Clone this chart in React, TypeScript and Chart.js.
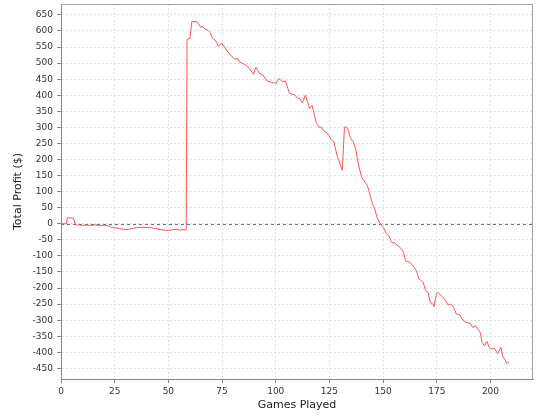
import React, { useEffect, useRef } from 'react';
import { Chart, registerables } from 'chart.js';

Chart.register(...registerables);

// Games played (x) and cumulative profit in $ (y)
const games = [
  0, 2.5, 3, 5, 5.8, 6.8, 8, 10, 12, 14, 16, 18, 20, 22, 23, 25, 27, 29, 31, 33, 35, 38, 42, 44, 47, 50, 52, 54, 55.5, 56.5, 58.3,
  58.7, 60.1, 60.9, 62.9, 64, 65.1, 65.8, 66.6, 67.5, 68.6, 69.4, 70.6, 72, 73.3, 74.9, 76.8, 78.4, 80.7, 82.3, 83, 86.1, 87.7,
  89.6, 90.8, 92.4, 94, 95.8, 98.7, 100.2, 101.4, 103.3, 104.5, 106.4, 108.7, 110.3, 111.2, 112.4, 113.8, 115.8, 116.9, 119,
  120.2, 121.3, 122.1, 124.4, 126, 127.1, 128.7, 129.9, 131, 132, 133, 133.8, 134.9, 136.1, 137.3, 138.4, 140, 141.5, 142.6,
  143.5, 145, 146.1, 147.1, 148.4, 149.2, 150.2, 151.5, 152.7, 153.8, 155.3, 156.9, 158.5, 159.5, 160.5, 162.3, 163.9, 165.5,
  166.7, 167.8, 168.6, 169.8, 170.9, 172, 173.2, 173.7, 174.8, 175.6, 177.1, 178.6, 180.2, 181.3, 182.5, 184.1, 185.6, 187.2,
  188.7, 190.6, 191.8, 193, 194.1, 195.2, 196.1, 197.2, 198.3, 199.5, 200.7, 201.8, 203.3, 204.9, 205.6, 206.9, 207.5, 208.7,
];
const profit = [
  0, 0, 19, 18, 17, -4, -3, -5, -4, -5, -3, -6, -4, -6, -10, -12, -15, -17, -18, -15, -12, -11, -12, -15, -19, -21, -18, -17, -20, -18, -19,
  574, 577, 629, 629, 624, 611, 615, 608, 605, 601, 595, 577, 570, 553, 562, 543, 530, 512, 515, 504, 494, 484,
  465, 487, 468, 463, 445, 439, 437, 452, 442, 445, 406, 402, 390, 390, 376, 400, 359, 369, 312,
  301, 300, 291, 279, 260, 255, 208, 187, 166, 301, 300, 291, 265, 255, 231, 187, 145, 130, 120,
  100, 62, 47, 21, 2, -3, -12, -31, -37, -57, -60, -68, -78, -89, -115, -120, -130, -146,
  -172, -177, -182, -208, -213, -245, -250, -258, -218, -213, -224, -234, -252, -250, -255, -281, -283, -300,
  -307, -310, -323, -317, -328, -338, -369, -380, -366, -385, -390, -387, -404, -385, -411, -424, -435, -429,
];

const xTickStep = 25;
const yTickStep = 50;
const xMin = 0;
const xMax = 219.8;
const yMin = -483;
const yMax = 684;

const frameAndZeroPlugin = {
  id: 'frameAndZero',
  beforeDatasetsDraw(chart: any) {
    const { ctx, chartArea, scales } = chart;
    const y0 = Math.round(scales.y.getPixelForValue(0)) + 0.5;
    ctx.save();
    ctx.strokeStyle = 'rgb(105,105,170)';
    ctx.lineWidth = 1;
    ctx.setLineDash([3, 3]);
    ctx.beginPath();
    ctx.moveTo(chartArea.left, y0);
    ctx.lineTo(chartArea.right, y0);
    ctx.stroke();
    ctx.restore();
  },
  afterDraw(chart: any) {
    const { ctx, chartArea } = chart;
    ctx.save();
    ctx.strokeStyle = '#a0a0a0';
    ctx.lineWidth = 1;
    ctx.beginPath();
    const r = Math.round(chartArea.right) - 0.5;
    const t = Math.round(chartArea.top) + 0.5;
    ctx.moveTo(Math.round(chartArea.left), t);
    ctx.lineTo(r, t);
    ctx.lineTo(r, Math.round(chartArea.bottom));
    ctx.stroke();
    ctx.restore();
  },
};

export default function App() {
  const ref = useRef<HTMLCanvasElement>(null);
  useEffect(() => {
    document.body.style.margin = '0';
    const tickFont = { family: 'DejaVu Sans', size: 9 };
    const titleFont = { family: 'DejaVu Sans', size: 11 };
    const chart = new Chart(ref.current as HTMLCanvasElement, {
      type: 'line',
      data: {
        datasets: [
          {
            data: games.map((g, i) => ({ x: g, y: profit[i] })),
            borderColor: '#FF5555',
            borderWidth: 1,
            pointRadius: 0,
            tension: 0,
            fill: false,
          },
        ],
      },
      options: {
        responsive: false,
        animation: false,
        devicePixelRatio: 1,
        layout: { padding: { top: 4, right: 7, left: 0, bottom: 0 } },
        plugins: { legend: { display: false }, tooltip: { enabled: false } },
        scales: {
          x: {
            type: 'linear',
            min: xMin,
            max: xMax,
            afterFit: (s: any) => { s.height = 41; s.paddingRight = 0; },
            ticks: {
              stepSize: xTickStep,
              includeBounds: false,
              autoSkip: false,
              maxRotation: 0,
              padding: 3,
              color: '#333',
              font: tickFont,
            },
            grid: {
              color: '#e0e0e0',
              tickColor: '#888',
              tickLength: 4,
              lineWidth: 1,
            },
            border: { color: '#888', dash: [2, 2] },
            title: {
              display: true,
              text: 'Games Played',
              color: '#222',
              font: titleFont,
              padding: { top: 0, bottom: 8 },
            },
          },
          y: {
            type: 'linear',
            min: yMin,
            max: yMax,
            afterFit: (s: any) => { s.width = 61; s.paddingTop = 0; s.paddingBottom = 0; },
            ticks: {
              stepSize: yTickStep,
              includeBounds: false,
              autoSkip: false,
              padding: 4,
              color: '#333',
              font: tickFont,
            },
            grid: {
              color: '#e0e0e0',
              tickColor: '#888',
              tickLength: 4,
              lineWidth: 1,
            },
            border: { color: '#888', dash: [2, 2] },
            title: {
              display: true,
              text: 'Total Profit ($)',
              color: '#222',
              font: titleFont,
              padding: { top: 12, bottom: 0 },
            },
          },
        },
      },
      plugins: [frameAndZeroPlugin],
    });
    return () => chart.destroy();
  }, []);
  return <canvas ref={ref} width={540} height={420} style={{ display: 'block' }} />;
}
